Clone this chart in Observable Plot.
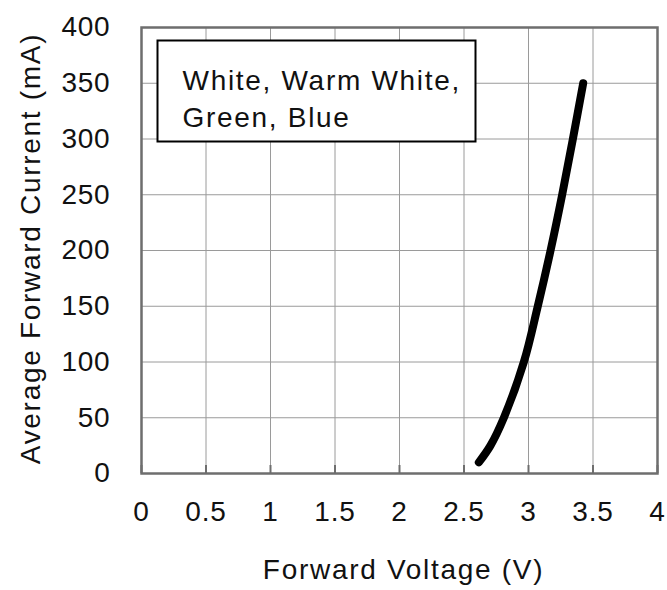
<!DOCTYPE html>
<html><head><meta charset="utf-8">
<script src="https://cdn.jsdelivr.net/npm/d3@7"></script>
<script src="https://cdn.jsdelivr.net/npm/@observablehq/plot@0.6"></script>
<style>
html,body{margin:0;padding:0;background:#fff;}
#chart svg text{letter-spacing:1.7px}
#chart svg g[aria-label$="tick label"] text{letter-spacing:0.8px}
</style></head><body><div id="chart"></div>
<script>
const voltage = [2.615, 2.705, 2.809, 2.964, 3.072, 3.171, 3.261, 3.344, 3.424];
const current = [10, 25, 50, 100, 150, 200, 250, 300, 350];
const xTicks = [0, 0.5, 1, 1.5, 2, 2.5, 3, 3.5, 4];
const yTicks = [0, 50, 100, 150, 200, 250, 300, 350, 400];
const legendLines = ["White, Warm White,", "Green, Blue"];
const xTitle = "Forward Voltage (V)";
const yTitle = "Average Forward Current (mA)";
const curve = voltage.map((v, k) => ({v, i: current[k]}));

const plot = Plot.plot({
  width: 667, height: 590,
  marginLeft: 141, marginRight: 10, marginTop: 27, marginBottom: 117,
  style: {fontFamily: "'Liberation Sans', Arial, sans-serif", fontSize: "28px", color: "#111", background: "#fff"},
  x: {domain: [0, 4]},
  y: {domain: [0, 400]},
  marks: [
    Plot.gridX(xTicks, {stroke: "#9a9a9a", strokeOpacity: 1, strokeWidth: 1}),
    Plot.gridY(yTicks, {stroke: "#9a9a9a", strokeOpacity: 1, strokeWidth: 1}),
    Plot.frame({fill: "#fff", stroke: "#000", strokeWidth: 2, insetLeft: 16, insetTop: 13, insetRight: 182, insetBottom: 332}),
    Plot.text([legendLines.join("\n")], {text: d => d, frameAnchor: "top-left", dx: 41, dy: 36, lineAnchor: "top", textAnchor: "start", lineHeight: 1.32, fontSize: 28, fill: "#111"}),
    Plot.line(curve, {x: "v", y: "i", curve: "catmull-rom", stroke: "#000", strokeWidth: 8, strokeLinecap: "round", strokeLinejoin: "round"}),
    Plot.ruleX(xTicks, {stroke: "#6e6e6e", strokeWidth: 2, insetTop: 438}),
    Plot.frame({stroke: "#6e6e6e", strokeWidth: 2.5}),
    Plot.axisX(xTicks, {tickSize: 0, tickPadding: 28, fontSize: 28, fill: "#111", label: null, tickFormat: d => String(d)}),
    Plot.axisY(yTicks, {tickSize: 0, tickPadding: 31, fontSize: 28, fill: "#111", label: null, tickFormat: d => String(d)}),
    Plot.text([xTitle], {text: d => d, frameAnchor: "bottom", dx: 4, dy: 86, lineAnchor: "top", textAnchor: "middle", fontSize: 28, fill: "#111"}),
    Plot.text([yTitle], {text: d => d, frameAnchor: "left", dx: -110, dy: -2, rotate: -90, lineAnchor: "middle", textAnchor: "middle", fontSize: 28, fill: "#111"})
  ]
});
document.getElementById("chart").appendChild(plot);
</script>
</body></html>
